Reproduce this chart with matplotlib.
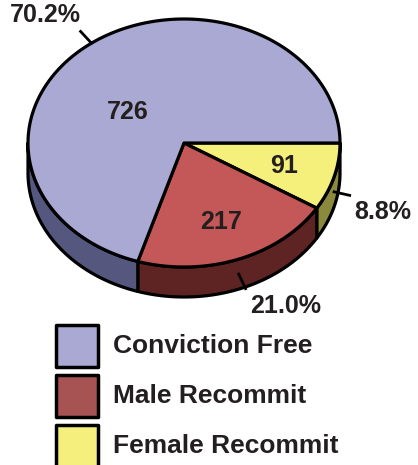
import numpy as np
import matplotlib.pyplot as plt
from matplotlib.patches import Polygon, Rectangle

# data
categories = ["Female Recommit", "Male Recommit", "Conviction Free"]
counts = [91, 217, 726]
pct_labels = ["8.8%", "21.0%", "70.2%"]
legend_order = ["Conviction Free", "Male Recommit", "Female Recommit"]

top_colors = {"Conviction Free": "#aaa9d4", "Male Recommit": "#c45757", "Female Recommit": "#f5f07c"}
side_colors = {"Conviction Free": "#55577f", "Male Recommit": "#5e2323", "Female Recommit": "#8a893c"}
legend_colors = {"Conviction Free": "#aaa9d4", "Male Recommit": "#a85353", "Female Recommit": "#f5f07e"}

# pie geometry (pixel units)
cx, cy, rx, ry, depth = 184, 143, 156, 124, 30
# value label radius / angle tweak per slice
label_r = [0.67, 0.68, 0.44]
label_ang = [None, None, 145.6]

plt.rcParams["font.family"] = ["Liberation Sans", "DejaVu Sans"]
txt_color = "#231f20"

fig = plt.figure(figsize=(4.18, 4.65), dpi=100)
ax = fig.add_axes([0, 0, 1, 1])
ax.set_xlim(0, 418)
ax.set_ylim(465, 0)
ax.axis("off")


def pt(t, dy=0.0):
    r = np.radians(t)
    return cx + rx * np.cos(r), cy - ry * np.sin(r) + dy


total = sum(counts)
fracs = np.array(counts) / total
bounds = np.concatenate([[0], -360 * np.cumsum(fracs)])

# side walls (front half only)
for i, cat in enumerate(categories):
    a1, a2 = bounds[i], bounds[i + 1]
    hi, lo = min(a1, 0), max(a2, -180)
    if hi <= lo:
        continue
    ts = np.linspace(hi, lo, 80)
    top = [pt(t) for t in ts]
    bot = [pt(t, depth) for t in ts[::-1]]
    ax.add_patch(Polygon(top + bot, closed=True, facecolor=side_colors[cat],
                         edgecolor="black", linewidth=2.3, joinstyle="round"))

# top face
for i, cat in enumerate(categories):
    a1, a2 = bounds[i], bounds[i + 1]
    ts = np.linspace(a1, a2, 200)
    verts = [(cx, cy)] + [pt(t) for t in ts]
    ax.add_patch(Polygon(verts, closed=True, facecolor=top_colors[cat],
                         edgecolor="black", linewidth=2.3, joinstyle="round"))

# value labels and percentage labels
for i, cat in enumerate(categories):
    a1, a2 = bounds[i], bounds[i + 1]
    mid = (a1 + a2) / 2
    ang = label_ang[i] if label_ang[i] is not None else mid
    r = np.radians(ang)
    lx = cx + label_r[i] * rx * np.cos(r)
    ly = cy - label_r[i] * ry * np.sin(r)
    ax.text(lx, ly, str(counts[i]), ha="center", va="center", fontsize=18,
            fontweight="bold", color=txt_color)

    m = np.radians(mid)
    dy = depth / 2 if np.sin(m) < 0 else 0
    x0, y0 = pt(mid, dy)
    d = np.array([rx * np.cos(m), -ry * np.sin(m)])
    d = d / np.linalg.norm(d)
    x1, y1 = x0 + 16 * d[0], y0 + 16 * d[1]
    ax.plot([x0, x1], [y0, y1], color="black", linewidth=2)
    ha = "left" if np.cos(m) > 0 else "right"
    va = "top" if np.sin(m) < 0 else "bottom"
    ox = 5 if ha == "left" else 0
    oy = 5 if va == "top" else -4
    ax.text(x1 + ox, y1 + oy, pct_labels[i], ha=ha, va=va, fontsize=18,
            fontweight="bold", color=txt_color)

# legend
for k, cat in enumerate(legend_order):
    y = 325 + 50 * k
    ax.add_patch(Rectangle((56, y), 42, 42, facecolor=legend_colors[cat],
                           edgecolor="black", linewidth=2.5, joinstyle="round"))
    ax.text(113, y + 21, cat, ha="left", va="center", fontsize=19,
            fontweight="bold", color=txt_color)

fig.savefig("out.png", dpi=100)
